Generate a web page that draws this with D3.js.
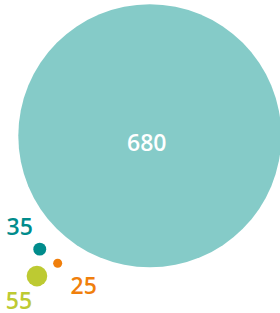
<!DOCTYPE html>
<html><head><meta charset="utf-8">
<script src="https://cdn.jsdelivr.net/npm/d3@7"></script>
<style>html,body{margin:0;padding:0;background:#fff;overflow:hidden}</style>
</head><body>
<svg id="c" width="280" height="313"></svg>
<script>
// data
const names = ["A", "B", "C", "D"];
const values = [680, 35, 25, 55];
const xPos = [53.5, 14.2, 20.6, 13.2];   // abstract layout units (0-100)
const yPos = [43.4, 79.6, 84.1, 88.2];
const colors = ["#85cbc8", "#008c8c", "#f07f0c", "#bdca32"];

// label placement (px offsets from bubble centre)
const labelDx = [-3, -20, 26, -18];
const labelDy = [15, -14, 31, 33];
const labelFill = ["#ffffff", "#008c8c", "#f07f0c", "#bdca32"];

const W = 280, H = 313;
const svg = d3.select("#c");
const x = d3.scaleLinear().domain([0, 100]).range([0, W]);
const y = d3.scaleLinear().domain([0, 100]).range([0, H]);
const r = d3.scaleLinear().domain([25, 680]).range([4.5, 131.5]);

const data = values.map((v, i) => ({name: names[i], v, x: xPos[i], y: yPos[i], c: colors[i], dx: labelDx[i], dy: labelDy[i], lf: labelFill[i]}));

svg.selectAll("circle").data(data).join("circle")
  .attr("cx", d => x(d.x)).attr("cy", d => y(d.y)).attr("r", d => r(d.v))
  .attr("fill", d => d.c);

svg.selectAll("text").data(data).join("text")
  .attr("x", d => x(d.x) + d.dx).attr("y", d => y(d.y) + d.dy)
  .attr("text-anchor", "middle")
  .attr("font-family", "'Open Sans', sans-serif")
  .attr("font-weight", 600)
  .attr("font-size", 23)
  .attr("fill", d => d.lf)
  .text(d => d.v);
</script>
</body></html>
